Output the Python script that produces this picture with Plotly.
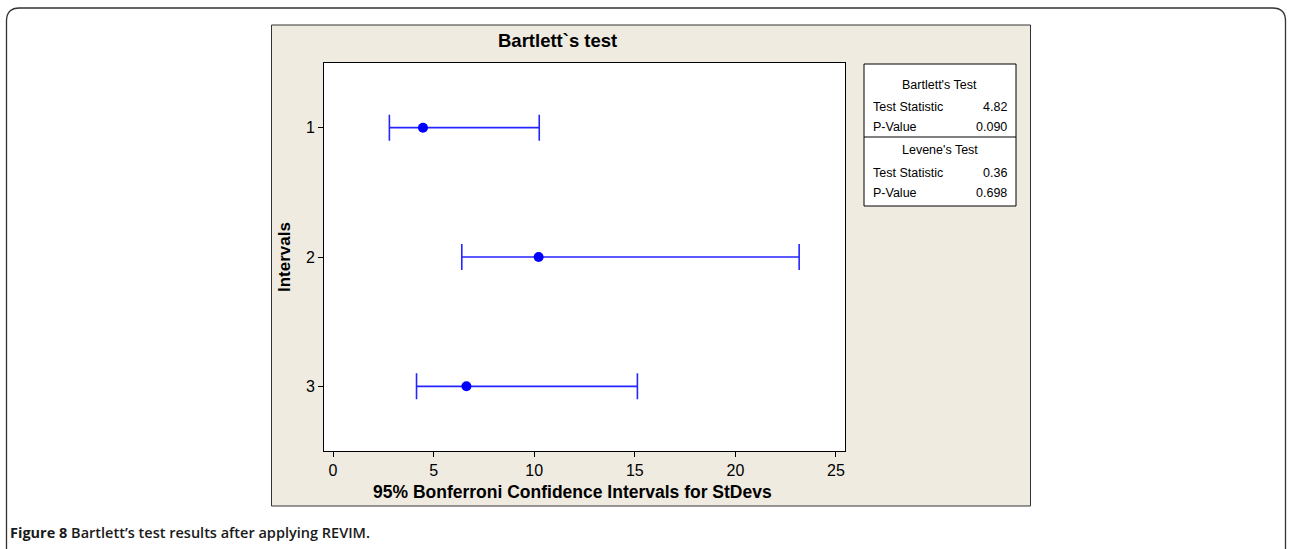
import plotly.graph_objects as go

# ---- data ----
groups = [1, 2, 3]
group_labels = ["1", "2", "3"]
stdev_est = [4.47, 10.22, 6.63]
ci_lower = [2.80, 6.40, 4.15]
ci_upper = [10.25, 23.17, 15.13]
x_ticks = [0, 5, 10, 15, 20, 25]

legend_rows = [
    ("Bartlett's Test", None),
    ("Test Statistic", "4.82"),
    ("P-Value", "0.090"),
    ("Levene's Test", None),
    ("Test Statistic", "0.36"),
    ("P-Value", "0.698"),
]

W, H = 1289, 549
FONT = "Liberation Sans, Arial, sans-serif"
BEIGE = "#EFEBE1"
BLUE = "#2525ff"


def px(x):
    return x / W


def py(y):
    return 1 - y / H


# plot-area geometry (pixels)
PL, PR, PT, PB = 324, 845, 63, 451

fig = go.Figure()
fig.add_trace(go.Scatter(
    x=stdev_est,
    y=groups,
    mode="markers",
    marker=dict(color="#0000ff", size=10),
    error_x=dict(
        type="data",
        symmetric=False,
        array=[u - c for u, c in zip(ci_upper, stdev_est)],
        arrayminus=[c - l for c, l in zip(stdev_est, ci_lower)],
        color=BLUE,
        thickness=1.6,
        width=13,
    ),
    showlegend=False,
    hoverinfo="x+y",
))

shapes = []
# outer rounded figure frame
r = 13
x0, x1, y0 = 6.5, 1285.5, 8
path = (f"M {px(x0)},{py(560)} L {px(x0)},{py(y0 + r)} "
        f"Q {px(x0)},{py(y0)} {px(x0 + r)},{py(y0)} "
        f"L {px(x1 - r)},{py(y0)} Q {px(x1)},{py(y0)} {px(x1)},{py(y0 + r)} "
        f"L {px(x1)},{py(560)}")
shapes.append(dict(type="path", xref="paper", yref="paper", path=path,
                   line=dict(color="#333333", width=1.3), layer="below"))
# beige graph panel
shapes.append(dict(type="rect", xref="paper", yref="paper",
                   x0=px(271.5), x1=px(1030.5), y0=py(25), y1=py(506),
                   fillcolor=BEIGE, line=dict(color="#333333", width=1), layer="below"))
# white plot area
shapes.append(dict(type="rect", xref="paper", yref="paper",
                   x0=px(PL), x1=px(PR), y0=py(PT), y1=py(PB),
                   fillcolor="white", line=dict(width=0), layer="below"))
# legend table box
LX0, LX1, LY0, LY1, LDIV = 864, 1016, 64, 206, 137
shapes.append(dict(type="rect", xref="paper", yref="paper",
                   x0=px(LX0), x1=px(LX1), y0=py(LY0), y1=py(LY1),
                   fillcolor="white", line=dict(color="black", width=1)))
shapes.append(dict(type="line", xref="paper", yref="paper",
                   x0=px(LX0), x1=px(LX1), y0=py(LDIV), y1=py(LDIV),
                   line=dict(color="black", width=1)))

annotations = []
row_y = [85, 107, 127, 150, 173, 193]
for (label, val), yy in zip(legend_rows, row_y):
    if val is None:
        annotations.append(dict(x=px((LX0 + LX1) / 2), y=py(yy), xref="paper", yref="paper",
                                text=label, showarrow=False, xanchor="center", yanchor="middle",
                                font=dict(family=FONT, size=12.5, color="black")))
    else:
        annotations.append(dict(x=px(871), y=py(yy), xref="paper", yref="paper",
                                text=label, showarrow=False, xanchor="left", yanchor="middle",
                                font=dict(family=FONT, size=12.5, color="black")))
        annotations.append(dict(x=px(1009), y=py(yy), xref="paper", yref="paper",
                                text=val, showarrow=False, xanchor="right", yanchor="middle",
                                font=dict(family=FONT, size=12.5, color="black")))

# chart title
annotations.append(dict(x=px(557), y=py(40), xref="paper", yref="paper",
                        text="<b>Bartlett`s test</b>", showarrow=False,
                        xanchor="center", yanchor="middle",
                        font=dict(family=FONT, size=18.5, color="black")))
# axis titles
annotations.append(dict(x=px((PL + PR) / 2 - 12), y=py(492), xref="paper", yref="paper",
                        text="<b>95% Bonferroni Confidence Intervals for StDevs</b>",
                        showarrow=False, xanchor="center", yanchor="middle",
                        font=dict(family=FONT, size=17.5, color="black")))
annotations.append(dict(x=px(285), y=py((PT + PB) / 2), xref="paper", yref="paper",
                        text="<b>Intervals</b>", textangle=-90,
                        showarrow=False, xanchor="center", yanchor="middle",
                        font=dict(family=FONT, size=17, color="black")))
# caption
annotations.append(dict(x=px(8), y=py(532), xref="paper", yref="paper",
                        text="<b>Figure 8</b> Bartlett\u2019s test results after applying REVIM.",
                        showarrow=False, xanchor="left", yanchor="middle",
                        font=dict(family="Open Sans, Liberation Sans, sans-serif", size=14.5,
                                  color="#1a1a1a", weight=600)))

fig.update_layout(
    width=W, height=H,
    margin=dict(l=0, r=0, t=0, b=0),
    paper_bgcolor="white",
    plot_bgcolor="rgba(0,0,0,0)",
    shapes=shapes,
    annotations=annotations,
    xaxis=dict(
        domain=[px(PL), px(PR)],
        range=[-0.45, 25.45],
        tickvals=x_ticks,
        ticktext=[str(t) for t in x_ticks],
        ticks="outside", ticklen=5, tickcolor="black",
        showline=True, linecolor="black", linewidth=1, mirror=True,
        showgrid=False, zeroline=False,
        tickfont=dict(family=FONT, size=16, color="black"),
        fixedrange=True,
    ),
    yaxis=dict(
        domain=[py(PB), py(PT)],
        range=[3.5, 0.5],
        tickvals=groups,
        ticktext=group_labels,
        ticks="outside", ticklen=5, tickcolor="black",
        showline=True, linecolor="black", linewidth=1, mirror=True,
        showgrid=False, zeroline=False,
        tickfont=dict(family=FONT, size=16, color="black"),
        fixedrange=True,
    ),
)

fig.write_html("out.html", config={"displayModeBar": False},
               post_script="document.body.style.margin='0';document.body.style.overflow='hidden';")
